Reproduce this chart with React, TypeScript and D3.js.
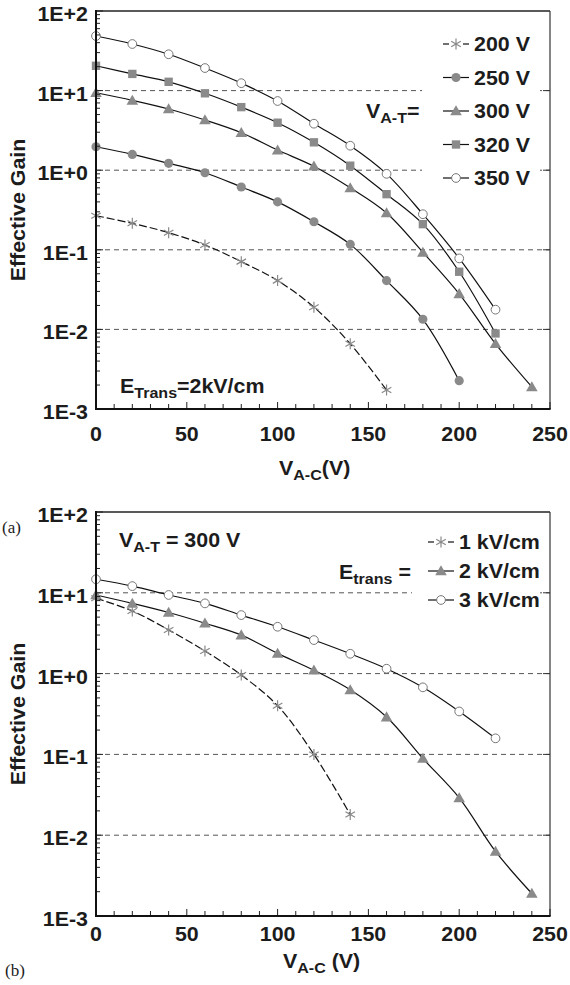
import React, { useRef, useEffect } from 'react';
import * as d3 from 'd3';

// V_A-C values (V)
const vac = [0, 20, 40, 60, 80, 100, 120, 140, 160, 180, 200, 220, 240];

// panel (a): effective gain for different V_A-T, E_trans = 2 kV/cm
const gain200V = [0.268, 0.215, 0.164, 0.115, 0.071, 0.041, 0.019, 0.0066, 0.00173];
const gain250V = [1.97, 1.58, 1.22, 0.93, 0.615, 0.4, 0.225, 0.117, 0.041, 0.0134, 0.00227];
const gain300V = [9.4, 7.55, 5.87, 4.27, 2.96, 1.79, 1.12, 0.6, 0.29, 0.093, 0.028, 0.0066, 0.0019];
const gain320V = [20.5, 16.2, 12.9, 9.25, 6.2, 3.95, 2.24, 1.14, 0.5, 0.21, 0.053, 0.0089];
const gain350V = [48.5, 38.5, 28.6, 19.2, 12.4, 7.4, 3.84, 2.03, 0.9, 0.28, 0.078, 0.0177];

// panel (b): effective gain for different E_trans, V_A-T = 300 V
const gain1kV = [8.55, 5.96, 3.47, 1.9, 0.96, 0.4, 0.1, 0.018];
const gain2kV = [9.4, 7.4, 5.7, 4.2, 3.0, 1.78, 1.1, 0.63, 0.29, 0.089, 0.029, 0.0063, 0.0019];
const gain3kV = [14.7, 12.1, 9.4, 7.4, 5.3, 3.8, 2.6, 1.76, 1.15, 0.676, 0.34, 0.158];

const yTickLabels = ['1E-3', '1E-2', '1E-1', '1E+0', '1E+1', '1E+2'];
const xTickLabels = ['0', '50', '100', '150', '200', '250'];

const seriesA = [
  { name: '200 V', values: gain200V, marker: 'star', dashed: true },
  { name: '250 V', values: gain250V, marker: 'circle', dashed: false },
  { name: '300 V', values: gain300V, marker: 'triangle', dashed: false },
  { name: '320 V', values: gain320V, marker: 'square', dashed: false },
  { name: '350 V', values: gain350V, marker: 'open', dashed: false },
];

const seriesB = [
  { name: '1 kV/cm', values: gain1kV, marker: 'star', dashed: true },
  { name: '2 kV/cm', values: gain2kV, marker: 'triangle', dashed: false },
  { name: '3 kV/cm', values: gain3kV, marker: 'open', dashed: false },
];

const FONT = 'Arial, "Liberation Sans", Helvetica, sans-serif';
const SX = 1.07; // glyphs in the figure are a bit wider than Arial
const GREY = '#8a8a8a';
const INK = '#1c1c1c';

function addText(g, x, y, anchor, size = 20) {
  return g.append('text')
    .attr('transform', `translate(${x},${y}) scale(${SX},1)`)
    .attr('text-anchor', anchor)
    .attr('font-family', FONT)
    .attr('font-weight', 'bold')
    .attr('font-size', size)
    .attr('fill', INK);
}

function drawMarker(g, type, x, y) {
  if (type === 'star') {
    const s = 5.5;
    const p = d3.path();
    p.moveTo(x, y - s); p.lineTo(x, y + s);
    p.moveTo(x - s * 0.87, y - s * 0.5); p.lineTo(x + s * 0.87, y + s * 0.5);
    p.moveTo(x - s * 0.87, y + s * 0.5); p.lineTo(x + s * 0.87, y - s * 0.5);
    g.append('path').attr('d', p.toString()).attr('stroke', GREY).attr('stroke-width', 1.2).attr('fill', 'none');
    return;
  }
  const sym = {
    circle: d3.symbolCircle,
    open: d3.symbolCircle,
    square: d3.symbolSquare,
    triangle: d3.symbolTriangle,
  }[type];
  const size = { circle: 66, open: 60, square: 70, triangle: 58 }[type];
  const path = g.append('path')
    .attr('d', d3.symbol(sym, size)())
    .attr('transform', `translate(${x},${y + (type === 'triangle' ? 1 : 0)})`);
  if (type === 'open') path.attr('fill', '#fff').attr('stroke', '#777').attr('stroke-width', 1);
  else path.attr('fill', GREY).attr('stroke', 'none');
}

function drawPanel(svg, cfg) {
  const { top, bottom, left, right, series, tickLabelDy, legend, box } = cfg;
  const g = svg.append('g');
  const x = d3.scaleLinear().domain([0, 250]).range([left, right]);
  const y = d3.scaleLog().domain([1e-3, 1e2]).range([bottom, top]);

  // dashed gridlines
  [1e-2, 1e-1, 1e0, 1e1].forEach(v => {
    g.append('line')
      .attr('x1', left).attr('x2', right)
      .attr('y1', y(v)).attr('y2', y(v))
      .attr('stroke', '#555').attr('stroke-width', 1)
      .attr('stroke-dasharray', '5,4');
  });

  // legend background hides the gridlines
  g.append('rect')
    .attr('x', box[0]).attr('y', box[1]).attr('width', box[2]).attr('height', box[3])
    .attr('fill', '#fff');

  const line = d3.line()
    .x((d, i) => x(vac[i]))
    .y(d => y(d))
    .curve(d3.curveCatmullRom.alpha(0.5));

  series.forEach(s => {
    g.append('path')
      .attr('d', line(s.values))
      .attr('fill', 'none')
      .attr('stroke', '#111')
      .attr('stroke-width', 1.2)
      .attr('stroke-dasharray', s.dashed ? '8,3' : null);
  });
  series.forEach(s => {
    s.values.forEach((v, i) => drawMarker(g, s.marker, x(vac[i]), y(v)));
  });

  // frame
  g.append('line').attr('x1', left).attr('x2', right).attr('y1', top).attr('y2', top)
    .attr('stroke', '#222').attr('stroke-width', 1.4);
  g.append('line').attr('x1', right).attr('x2', right).attr('y1', top).attr('y2', bottom)
    .attr('stroke', '#333').attr('stroke-width', 1.2);

  // y ticks
  for (let e = -3; e <= 2; e++) {
    for (let k = 1; k <= 9; k++) {
      const v = k * Math.pow(10, e);
      if (v > 100.0001) continue;
      const len = k === 1 ? 7 : 4;
      g.append('line').attr('x1', left).attr('x2', left + len)
        .attr('y1', y(v)).attr('y2', y(v))
        .attr('stroke', '#222').attr('stroke-width', 1);
    }
  }
  yTickLabels.forEach((t, i) => {
    const v = Math.pow(10, i - 3);
    addText(g, left - 8, y(v) + 10, 'end').text(t);
    if (i > 0 && i < 5) {
      g.append('line').attr('x1', right - 7).attr('x2', right)
        .attr('y1', y(v)).attr('y2', y(v))
        .attr('stroke', '#333').attr('stroke-width', 1);
    }
  });

  // x ticks
  d3.range(0, 251, 10).forEach(v => {
    const len = v % 50 === 0 ? 7 : 5;
    g.append('line').attr('x1', x(v)).attr('x2', x(v))
      .attr('y1', bottom).attr('y2', bottom - len)
      .attr('stroke', '#222').attr('stroke-width', 1);
  });
  xTickLabels.forEach(t => {
    addText(g, x(+t), bottom + tickLabelDy, 'middle').text(t);
  });

  // axes
  g.append('line').attr('x1', left).attr('x2', left).attr('y1', top - 1).attr('y2', bottom + 1)
    .attr('stroke', '#111').attr('stroke-width', 2);
  g.append('line').attr('x1', left - 1).attr('x2', right + 0.6).attr('y1', bottom).attr('y2', bottom)
    .attr('stroke', '#111').attr('stroke-width', 2);

  // y axis title
  g.append('text')
    .attr('transform', `translate(25,${(top + bottom) / 2}) rotate(-90) scale(${SX},1)`)
    .attr('text-anchor', 'middle')
    .attr('font-family', FONT).attr('font-weight', 'bold').attr('font-size', 20)
    .attr('fill', INK)
    .text('Effective Gain');

  // legend
  series.forEach((s, i) => {
    const ly = legend.y0 + i * legend.dy;
    const lx = legend.x;
    if (s.dashed) {
      g.append('line').attr('x1', lx - 13).attr('x2', lx - 7).attr('y1', ly).attr('y2', ly)
        .attr('stroke', '#111').attr('stroke-width', 1.2);
      g.append('line').attr('x1', lx + 7).attr('x2', lx + 13).attr('y1', ly).attr('y2', ly)
        .attr('stroke', '#111').attr('stroke-width', 1.2);
    } else {
      g.append('line').attr('x1', lx - 13).attr('x2', lx + 13).attr('y1', ly).attr('y2', ly)
        .attr('stroke', '#111').attr('stroke-width', 1.2);
    }
    drawMarker(g, s.marker, lx, ly);
    addText(g, lx + 18, ly + 7, 'start').text(s.name);
  });

  return g;
}

function subText(g, x, y, main, sub, rest, anchor = 'start') {
  const t = addText(g, x, y, anchor);
  t.append('tspan').text(main);
  t.append('tspan').attr('font-size', 15).attr('dy', 5).text(sub);
  t.append('tspan').attr('dy', -5).text(rest);
  return t;
}

const App = () => {
  const ref = useRef(null);

  useEffect(() => {
    const svg = d3.select(ref.current)
      .attr('width', 570)
      .attr('height', 985);
    svg.selectAll('*').remove();

    const gA = drawPanel(svg, {
      top: 11, bottom: 409, left: 96, right: 550,
      series: seriesA, tickLabelDy: 32,
      legend: { x: 456, y0: 44, dy: 33.5 },
      box: [422, 24, 118, 172],
    });
    subText(gA, 366, 118, 'V', 'A-T', '=');
    subText(gA, 120, 393, 'E', 'Trans', '=2kV/cm');
    subText(gA, 279, 475, 'V', 'A-C', '(V)');

    const gB = drawPanel(svg, {
      top: 512, bottom: 916, left: 96, right: 550,
      series: seriesB, tickLabelDy: 25,
      legend: { x: 441, y0: 542, dy: 29 },
      box: [412, 524, 128, 92],
    });
    subText(gB, 119, 547, 'V', 'A-T', ' = 300 V');
    subText(gB, 339, 579, 'E', 'trans', ' =');
    subText(gB, 283, 968, 'V', 'A-C', ' (V)');

    // panel letters
    svg.append('text')
      .attr('x', 2).attr('y', 533)
      .attr('font-family', '"Times New Roman", "Liberation Serif", serif')
      .attr('font-size', 17).attr('fill', INK)
      .text('(a)');
    svg.append('text')
      .attr('x', 5).attr('y', 976)
      .attr('font-family', '"Times New Roman", "Liberation Serif", serif')
      .attr('font-size', 17).attr('fill', INK)
      .text('(b)');
  }, []);

  return (
    <svg
      ref={ref}
      style={{ position: 'absolute', left: 0, top: 0, display: 'block', background: '#fff' }}
    ></svg>
  );
};

export default App;
